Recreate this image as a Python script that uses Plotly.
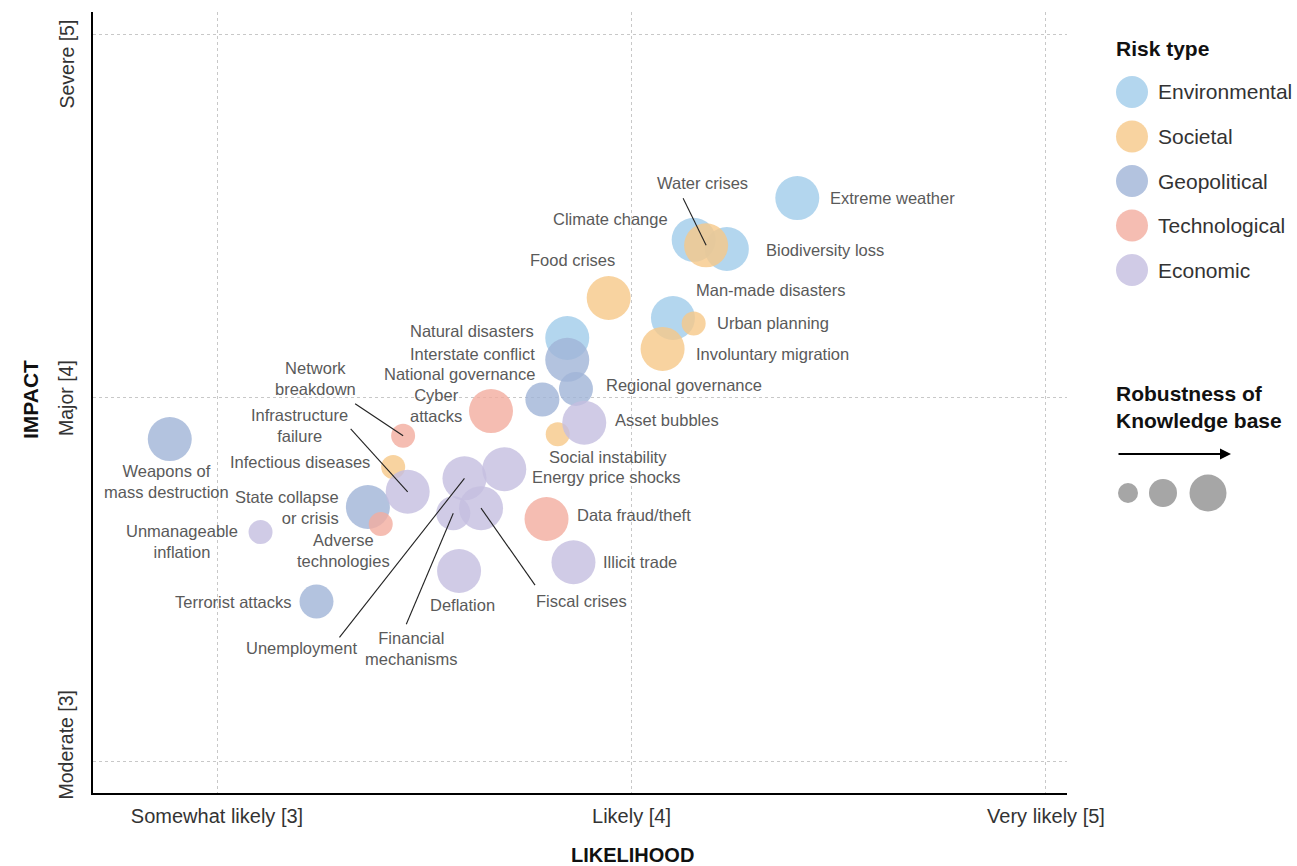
import plotly.graph_objects as go

# ---------------- data ----------------
env_names = ["Extreme weather", "Climate change", "Biodiversity loss", "Man-made disasters", "Natural disasters"]
env_likelihood = [4.40, 4.15, 4.23, 4.10, 3.845]
env_impact = [4.55, 4.435, 4.41, 4.22, 4.165]
env_robust = [3, 3, 3, 3, 3]

soc_names = ["Water crises", "Food crises", "Involuntary migration", "Urban planning", "Social instability", "Infectious diseases"]
soc_likelihood = [4.18, 3.945, 4.075, 4.15, 3.822, 3.425]
soc_impact = [4.42, 4.275, 4.135, 4.205, 3.90, 3.81]
soc_robust = [3, 3, 3, 1, 1, 1]

geo_names = ["Interstate conflict", "Regional governance", "National governance", "State collapse or crisis", "Terrorist attacks", "Weapons of mass destruction"]
geo_likelihood = [3.845, 3.866, 3.785, 3.364, 3.24, 2.886]
geo_impact = [4.105, 4.025, 3.996, 3.70, 3.44, 3.887]
geo_robust = [3, 2, 2, 3, 2, 3]

tech_names = ["Cyber attacks", "Data fraud/theft", "Network breakdown", "Adverse technologies"]
tech_likelihood = [3.661, 3.795, 3.449, 3.395]
tech_impact = [3.964, 3.667, 3.896, 3.653]
tech_robust = [3, 3, 1, 1]

econ_names = ["Asset bubbles", "Energy price shocks", "Unemployment", "Fiscal crises", "Financial mechanisms",
              "Illicit trade", "Deflation", "Infrastructure failure", "Unmanageable inflation"]
econ_likelihood = [3.886, 3.693, 3.597, 3.637, 3.570, 3.860, 3.584, 3.460, 3.105]
econ_impact = [3.932, 3.804, 3.779, 3.697, 3.683, 3.548, 3.524, 3.742, 3.631]
econ_robust = [3, 3, 3, 3, 2, 3, 3, 3, 1]

risk_types = ["Environmental", "Societal", "Geopolitical", "Technological", "Economic"]
likelihood_ticks = ["Somewhat likely [3]", "Likely [4]", "Very likely [5]"]
likelihood_vals = [3, 4, 5]
impact_ticks = ["Moderate [3]", "Major [4]", "Severe [5]"]
impact_vals = [3, 4, 5]

# ---------------- styles ----------------
FONT = "Liberation Sans, Arial, sans-serif"
colors = {"Environmental": "#a0ccea", "Societal": "#f6c888", "Geopolitical": "#a0b4d7",
          "Technological": "#f2ac9f", "Economic": "#c4bee0"}
OPAC = 0.8
size_px = {1: 24, 2: 34, 3: 44}
LABEL_COLOR = "#5a5a5a"
LABEL_SIZE = 16.5

groups = [
    ("Environmental", env_names, env_likelihood, env_impact, env_robust),
    ("Societal", soc_names, soc_likelihood, soc_impact, soc_robust),
    ("Geopolitical", geo_names, geo_likelihood, geo_impact, geo_robust),
    ("Technological", tech_names, tech_likelihood, tech_impact, tech_robust),
    ("Economic", econ_names, econ_likelihood, econ_impact, econ_robust),
]

# label placement: text, xanchor, xshift, yshift (px, up positive), align
labels = {
    "Extreme weather": ("Extreme weather", "left", 31, 0, "left"),
    "Climate change": ("Climate change", "right", -24, 21, "right"),
    "Biodiversity loss": ("Biodiversity loss", "left", 37, -1, "left"),
    "Man-made disasters": ("Man-made disasters", "left", 21, 28, "left"),
    "Natural disasters": ("Natural disasters", "right", -31, 7, "right"),
    "Water crises": ("Water crises", "center", -4, 62, "center"),
    "Food crises": ("Food crises", "center", -36, 38, "center"),
    "Involuntary migration": ("Involuntary migration", "left", 31, -5, "left"),
    "Urban planning": ("Urban planning", "left", 21, 0, "left"),
    "Social instability": ("Social instability", "left", -11, -23, "left"),
    "Infectious diseases": ("Infectious diseases", "right", -21, 5, "right"),
    "Interstate conflict": ("Interstate conflict", "right", -30, 6, "right"),
    "Regional governance": ("Regional governance", "left", 28, 4, "left"),
    "National governance": ("National governance", "right", -5, 25, "right"),
    "State collapse or crisis": ("State collapse<br>or crisis", "right", -27, 0, "right"),
    "Terrorist attacks": ("Terrorist attacks", "right", -23, 0, "right"),
    "Weapons of mass destruction": ("Weapons of<br>mass destruction", "center", -3, -42, "center"),
    "Cyber attacks": ("Cyber<br>attacks", "right", -27, 6, "center"),
    "Data fraud/theft": ("Data fraud/theft", "left", 28, 4, "left"),
    "Network breakdown": ("Network<br>breakdown", "center", -88, 57, "center"),
    "Adverse technologies": ("Adverse<br>technologies", "center", -37, -26, "center"),
    "Asset bubbles": ("Asset bubbles", "left", 29, 3, "left"),
    "Energy price shocks": ("Energy price shocks", "left", 26, -8, "left"),
    "Unemployment": ("Unemployment", "center", -163, -170, "center"),
    "Fiscal crises": ("Fiscal crises", "center", 100, -93, "center"),
    "Financial mechanisms": ("Financial<br>mechanisms", "center", -42, -135, "center"),
    "Illicit trade": ("Illicit trade", "left", 28, 0, "left"),
    "Deflation": ("Deflation", "center", 3, -34, "center"),
    "Infrastructure failure": ("Infrastructure<br>failure", "center", -108, 66, "center"),
    "Unmanageable inflation": ("Unmanageable<br>inflation", "right", -21, -9, "center"),
}

# leader lines: dx, dy in screen px (down positive) from bubble centre
leaders = {
    "Water crises": (-23, -47),
    "Network breakdown": (-48, -32),
    "Infrastructure failure": (-57, -63),
    "Unemployment": (-125, 159),
    "Financial mechanisms": (-47, 111),
    "Fiscal crises": (54, 77),
}

fig = go.Figure()
annotations = []
shapes = []

for rtype, names, xs, ys, rob in groups:
    fig.add_trace(go.Scatter(
        x=xs, y=ys, mode="markers", name=rtype, text=names,
        marker=dict(size=[size_px[r] for r in rob], color=colors[rtype], opacity=OPAC,
                    line=dict(width=0)),
        hovertemplate="%{text}<extra></extra>", showlegend=False,
    ))
    for n, x, y in zip(names, xs, ys):
        t, xa, xsh, ysh, al = labels[n]
        annotations.append(dict(x=x, y=y, xref="x", yref="y", text=t, showarrow=False,
                                xanchor=xa, yanchor="middle", xshift=xsh, yshift=ysh, align=al,
                                font=dict(family=FONT, size=LABEL_SIZE, color=LABEL_COLOR)))
        if n in leaders:
            dx, dy = leaders[n]
            shapes.append(dict(type="line", xref="x", yref="y", xsizemode="pixel", ysizemode="pixel",
                               xanchor=x, yanchor=y, x0=0, y0=0, x1=dx, y1=-dy,
                               line=dict(color="#222222", width=1.1), layer="above"))

# ---- plot-area geometry (px) for paper-coord helpers ----
L, R, T, B = 93, 1067, 12, 793
def px(xp):
    return (xp - L) / (R - L)
def py(yp):
    return (B - yp) / (B - T)

# y tick labels (rotated)
ytick_shift = {3: 16, 4: 0, 5: -30}
for v, t in zip(impact_vals, impact_ticks):
    annotations.append(dict(x=px(66), y=v, xref="paper", yref="y", text=t, textangle=-90,
                            showarrow=False, xanchor="center", yanchor="middle", yshift=ytick_shift[v],
                            font=dict(family=FONT, size=19.5, color="#333333")))

# axis titles
annotations.append(dict(x=px(632), y=py(855), xref="paper", yref="paper", text="<b>LIKELIHOOD</b>",
                        showarrow=False, xanchor="center", yanchor="middle",
                        font=dict(family=FONT, size=20, color="#111111")))
annotations.append(dict(x=px(30), y=py(400), xref="paper", yref="paper", text="<b>IMPACT</b>",
                        showarrow=False, xanchor="center", yanchor="middle", textangle=-90,
                        font=dict(family=FONT, size=21, color="#111111")))

# legend: risk type
annotations.append(dict(x=px(1114), y=py(48), xref="paper", yref="paper", text="<b>Risk type</b>",
                        showarrow=False, xanchor="left", yanchor="middle",
                        font=dict(family=FONT, size=21, color="#111111")))
for i, rt in enumerate(risk_types):
    cy = 92 + i * 44.5
    shapes.append(dict(type="circle", xref="paper", yref="paper", xsizemode="pixel", ysizemode="pixel",
                       xanchor=px(1132), yanchor=py(cy), x0=-16, x1=16, y0=-16, y1=16,
                       fillcolor=colors[rt], opacity=OPAC, line=dict(width=0)))
    annotations.append(dict(x=px(1156), y=py(cy), xref="paper", yref="paper", text=rt,
                            showarrow=False, xanchor="left", yanchor="middle",
                            font=dict(family=FONT, size=21, color="#333333")))

# legend: robustness
annotations.append(dict(x=px(1114), y=py(407), xref="paper", yref="paper",
                        text="<b>Robustness of<br>Knowledge base</b>", align="left",
                        showarrow=False, xanchor="left", yanchor="middle",
                        font=dict(family=FONT, size=21, color="#111111")))
annotations.append(dict(x=px(1231), y=py(454), xref="paper", yref="paper", text="",
                        showarrow=True, ax=-114, ay=0, axref="pixel", ayref="pixel",
                        arrowhead=2, arrowsize=1.1, arrowwidth=2, arrowcolor="#000000", standoff=0))
for cx, r in [(1128, 10), (1163, 14), (1208, 18.5)]:
    shapes.append(dict(type="circle", xref="paper", yref="paper", xsizemode="pixel", ysizemode="pixel",
                       xanchor=px(cx), yanchor=py(493), x0=-r, x1=r, y0=-r, y1=r,
                       fillcolor="#a6a6a6", line=dict(width=0)))

fig.update_layout(
    width=1297, height=866,
    margin=dict(l=L, r=1297 - R, t=T, b=866 - B),
    plot_bgcolor="white", paper_bgcolor="white",
    font=dict(family=FONT),
    annotations=annotations, shapes=shapes,
    showlegend=False,
)
fig.update_xaxes(range=[2.7008, 5.0507], tickvals=likelihood_vals, ticktext=likelihood_ticks,
                 showgrid=True, gridcolor="#c8c8c8", griddash="3px,3px", gridwidth=1,
                 zeroline=False, showline=True, linecolor="#000000", linewidth=2,
                 ticks="", ticklabelstandoff=4, tickfont=dict(family=FONT, size=20, color="#333333"))
fig.update_yaxes(range=[2.9133, 5.0619], tickvals=impact_vals, showticklabels=False,
                 showgrid=True, gridcolor="#c8c8c8", griddash="3px,3px", gridwidth=1,
                 zeroline=False, showline=True, linecolor="#000000", linewidth=2, ticks="")

fig.write_html("out.html", config={"displayModeBar": False},
               post_script="document.body.style.margin='0px';document.body.style.overflow='hidden';")
